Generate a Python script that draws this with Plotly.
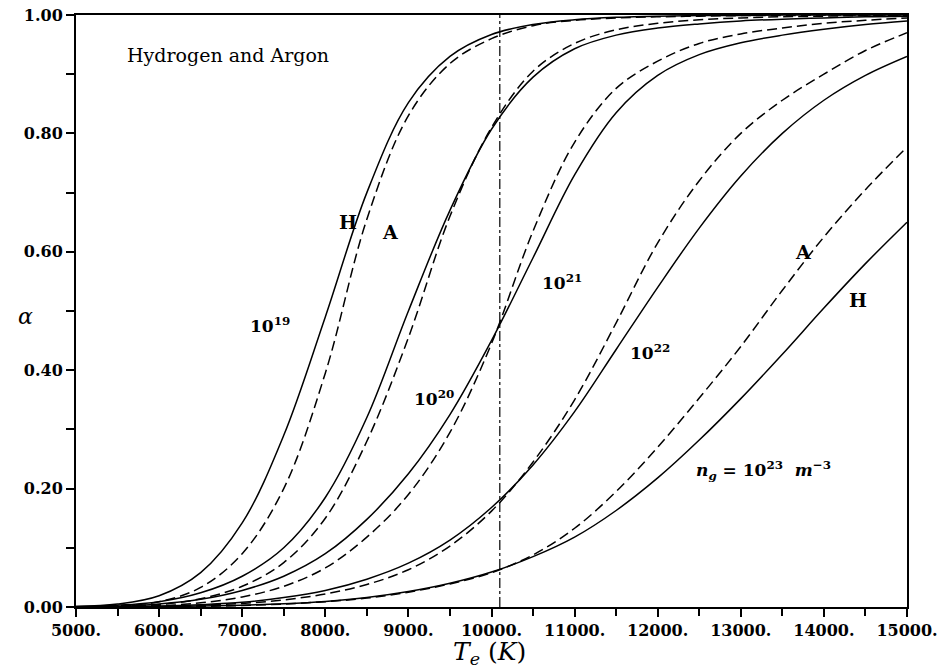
import plotly.graph_objects as go

# Electron temperature grid (K)
temperature = [5000, 5500, 6000, 6500, 7000, 7500, 8000, 8500, 9000, 9500, 10000,
               10500, 11000, 11500, 12000, 12500, 13000, 13500, 14000, 14500, 15000]

# Degree of ionization alpha (H = solid, A = dashed)
h_1e19 = [0.001, 0.005, 0.019, 0.058, 0.142, 0.29, 0.49, 0.70, 0.852, 0.93, 0.967,
          0.984, 0.992, 0.996, 0.998, 0.999, 0.999, 1.0, 1.0, 1.0, 1.0]
a_1e19 = [0.0, 0.002, 0.009, 0.033, 0.09, 0.20, 0.395, 0.655, 0.83, 0.918, 0.96,
          0.982, 0.991, 0.995, 0.997, 0.998, 0.999, 0.999, 1.0, 1.0, 1.0]
h_1e20 = [0.001, 0.003, 0.009, 0.024, 0.052, 0.10, 0.185, 0.32, 0.50, 0.67, 0.807,
          0.895, 0.943, 0.966, 0.978, 0.985, 0.99, 0.993, 0.995, 0.997, 0.998]
a_1e20 = [0.0, 0.001, 0.004, 0.014, 0.035, 0.075, 0.15, 0.28, 0.455, 0.66, 0.81,
          0.905, 0.952, 0.975, 0.986, 0.992, 0.995, 0.997, 0.998, 0.999, 0.999]
h_1e21 = [0.0, 0.001, 0.005, 0.013, 0.028, 0.052, 0.09, 0.148, 0.225, 0.325, 0.45,
          0.59, 0.73, 0.835, 0.898, 0.933, 0.953, 0.966, 0.976, 0.984, 0.99]
a_1e21 = [0.0, 0.0005, 0.002, 0.007, 0.017, 0.035, 0.066, 0.118, 0.19, 0.295, 0.445,
          0.635, 0.785, 0.876, 0.922, 0.952, 0.968, 0.978, 0.986, 0.991, 0.995]
h_1e22 = [0.0, 0.0005, 0.0015, 0.004, 0.008, 0.016, 0.028, 0.047, 0.074, 0.113, 0.168,
          0.24, 0.33, 0.435, 0.54, 0.64, 0.728, 0.80, 0.856, 0.898, 0.93]
a_1e22 = [0.0, 0.0003, 0.001, 0.003, 0.006, 0.012, 0.022, 0.038, 0.063, 0.103, 0.162,
          0.245, 0.35, 0.48, 0.615, 0.72, 0.80, 0.856, 0.90, 0.94, 0.97]
h_1e23 = [0.0, 0.0002, 0.0006, 0.0015, 0.003, 0.0055, 0.0095, 0.016, 0.026, 0.04, 0.059,
          0.085, 0.118, 0.163, 0.218, 0.282, 0.352, 0.427, 0.505, 0.58, 0.65]
a_1e23 = [0.0, 0.0001, 0.0005, 0.0012, 0.0025, 0.005, 0.009, 0.015, 0.025, 0.039, 0.058,
          0.088, 0.133, 0.195, 0.27, 0.353, 0.44, 0.535, 0.625, 0.705, 0.777]

ref_temperature = 10100  # vertical dash-dot reference line

x_tick_values = [5000, 6000, 7000, 8000, 9000, 10000, 11000, 12000, 13000, 14000, 15000]
x_tick_labels = ["5000.", "6000.", "7000.", "8000.", "9000.", "10000.", "11000.",
                 "12000.", "13000.", "14000.", "15000."]
y_tick_values = [0.0, 0.2, 0.4, 0.6, 0.8, 1.0]
y_tick_labels = ["0.00", "0.20", "0.40", "0.60", "0.80", "1.00"]

SERIF = "DejaVu Serif"
fig = go.Figure()

hydrogen = [h_1e19, h_1e20, h_1e21, h_1e22, h_1e23]
argon = [a_1e19, a_1e20, a_1e21, a_1e22, a_1e23]
for h, a in zip(hydrogen, argon):
    fig.add_trace(go.Scatter(x=temperature, y=h, mode="lines",
                             line=dict(color="black", width=1.5, shape="spline", smoothing=1.0),
                             showlegend=False, hoverinfo="skip"))
    fig.add_trace(go.Scatter(x=temperature, y=a, mode="lines",
                             line=dict(color="black", width=1.5, dash="10px,5px",
                                       shape="spline", smoothing=1.0),
                             showlegend=False, hoverinfo="skip"))

fig.add_trace(go.Scatter(x=[ref_temperature, ref_temperature], y=[0, 1], mode="lines",
                         line=dict(color="black", width=1.2, dash="10px,3px,3px,3px"),
                         showlegend=False, hoverinfo="skip"))

tick_font = dict(family=SERIF, size=16, color="black", weight="bold")
fig.update_xaxes(range=[5000, 15000], tickmode="array", tickvals=x_tick_values,
                 ticktext=x_tick_labels, ticks="outside", ticklen=8, tickwidth=2,
                 tickcolor="black", tickfont=tick_font, automargin=False,
                 minor=dict(dtick=500, tick0=5000, ticks="outside", ticklen=7,
                            tickwidth=2, tickcolor="black"),
                 showline=True, linewidth=2, linecolor="black", mirror=True,
                 showgrid=False, zeroline=False)
fig.update_yaxes(range=[0, 1], tickmode="array", tickvals=y_tick_values,
                 ticktext=y_tick_labels, ticks="outside", ticklen=8, tickwidth=2,
                 tickcolor="black", tickfont=tick_font, automargin=False,
                 minor=dict(dtick=0.1, tick0=0, ticks="outside", ticklen=8,
                            tickwidth=2, tickcolor="black"),
                 showline=True, linewidth=2, linecolor="black", mirror=True,
                 showgrid=False, zeroline=False)

lab = dict(family=SERIF, size=19, color="black")
letter = dict(family=SERIF, size=19, color="black", weight="bold")
num = dict(family=SERIF, size=17, color="black", weight="bold")
annos = [
    dict(x=5590, y=0.932, text="Hydrogen and Argon", xanchor="left", font=lab),
    dict(x=8273, y=0.650, text="H", font=letter),
    dict(x=8778, y=0.633, text="A", font=letter),
    dict(x=7334, y=0.476, text="10<sup>19</sup>", font=num),
    dict(x=9308, y=0.353, text="10<sup>20</sup>", font=num),
    dict(x=10848, y=0.549, text="10<sup>21</sup>", font=num),
    dict(x=11907, y=0.431, text="10<sup>22</sup>", font=num),
    dict(x=13748, y=0.600, text="A", font=letter),
    dict(x=14410, y=0.519, text="H", font=letter),
    dict(x=13279, y=0.231,
         text="<i>n<sub>g</sub></i> = 10<sup>23</sup>  <i>m</i><sup>−3</sup>",
         font=num),
]
for an in annos:
    an.setdefault("xanchor", "center")
    fig.add_annotation(xref="x", yref="y", showarrow=False, yanchor="middle", **an)

fig.add_annotation(xref="paper", yref="paper", x=0.498, y=-0.078, yanchor="middle",
                   showarrow=False,
                   text="<i>T<sub>e</sub></i> (<i>K</i>)",
                   font=dict(family=SERIF, size=25, color="black"))
fig.add_annotation(xref="paper", x=-0.072, yref="paper", y=0.491, showarrow=False,
                   text="<i>α</i>", font=dict(family=SERIF, size=22, color="black"))

fig.update_layout(width=946, height=669, margin=dict(l=76, r=39, t=15, b=62),
                  paper_bgcolor="white", plot_bgcolor="white")

fig.write_html("out.html")
